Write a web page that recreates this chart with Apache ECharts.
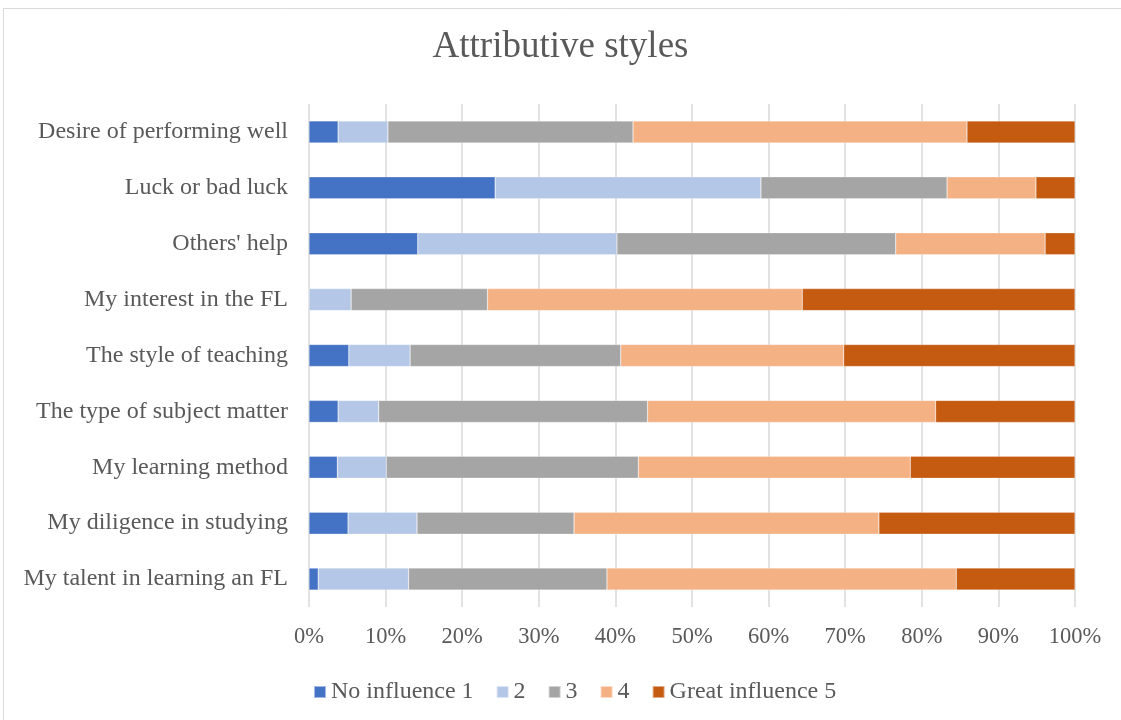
<!DOCTYPE html>
<html>
<head>
<meta charset="utf-8">
<script src="https://cdn.jsdelivr.net/npm/echarts@6/dist/echarts.min.js"></script>
<style>
  html, body { margin: 0; padding: 0; background: #fff; }
  #chart { width: 1121px; height: 720px; }
</style>
</head>
<body>
<div id="chart"></div>
<script>
// Attributive styles: share of answers (%) per influence level, listed top to bottom
const categories = [
  "Desire of performing well",
  "Luck or bad luck",
  "Others' help",
  "My interest in the FL",
  "The style of teaching",
  "The type of subject matter",
  "My learning method",
  "My diligence in studying",
  "My talent in learning an FL"
];
const seriesNames = ["No influence 1", "2", "3", "4", "Great influence 5"];
const level1 = [3.8, 24.3, 14.2, 0.0, 5.2, 3.8, 3.7, 5.1, 1.2];
const level2 = [6.5, 34.7, 26.0, 5.5, 8.0, 5.3, 6.4, 9.0, 11.8];
const level3 = [32.0, 24.3, 36.4, 17.8, 27.5, 35.1, 32.9, 20.5, 25.9];
const level4 = [43.6, 11.6, 19.5, 41.1, 29.1, 37.6, 35.5, 39.8, 45.6];
const level5 = [14.1, 5.1, 3.9, 35.6, 30.2, 18.2, 21.5, 25.6, 15.5];
const tickValues = [0, 10, 20, 30, 40, 50, 60, 70, 80, 90, 100];

const levels = [level1, level2, level3, level4, level5];
const colors = ["#4472C4", "#B4C7E7", "#A5A5A5", "#F4B183", "#C55A11"];
const serif = "'Liberation Serif', 'Times New Roman', serif";

const chart = echarts.init(document.getElementById('chart'), null, { renderer: 'canvas' });
chart.setOption({
  animation: false,
  backgroundColor: '#ffffff',
  title: {
    text: 'Attributive styles',
    left: 'center',
    top: 24,
    textStyle: { fontFamily: serif, fontSize: 37, fontWeight: 'normal', color: '#595959' }
  },
  graphic: [{
    type: 'rect',
    shape: { x: 3.5, y: 8.5, width: 1130, height: 720 },
    style: { fill: 'none', stroke: '#d9d9d9', lineWidth: 1 },
    silent: true
  }],
  legend: {
    data: seriesNames,
    top: 675,
    left: 308,
    itemWidth: 12,
    itemHeight: 12,
    itemGap: 22,
    icon: 'rect',
    textStyle: { fontFamily: serif, fontSize: 24, color: '#595959', padding: [0, 0, 0, 0] }
  },
  grid: { left: 309, right: 46, top: 104, bottom: 113, containLabel: false },
  xAxis: {
    type: 'value',
    min: 0, max: 100, interval: 10,
    axisLine: { show: false },
    axisTick: { show: false },
    splitLine: { lineStyle: { color: '#d9d9d9', width: 1.5 } },
    axisLabel: {
      margin: 19,
      fontFamily: serif, fontSize: 22.5, color: '#595959',
      formatter: v => tickValues.includes(v) ? v + '%' : ''
    }
  },
  yAxis: {
    type: 'category',
    inverse: true,
    data: categories,
    axisLine: { show: false },
    axisTick: { show: false },
    axisLabel: { margin: 21, fontFamily: serif, fontSize: 24, color: '#595959' }
  },
  series: levels.map((vals, i) => ({
    name: seriesNames[i],
    type: 'bar',
    stack: 'total',
    barWidth: 22,
    data: vals,
    itemStyle: { color: colors[i], borderColor: 'rgba(255,255,255,0.5)', borderWidth: 0.5 }
  }))
});
</script>
</body>
</html>
